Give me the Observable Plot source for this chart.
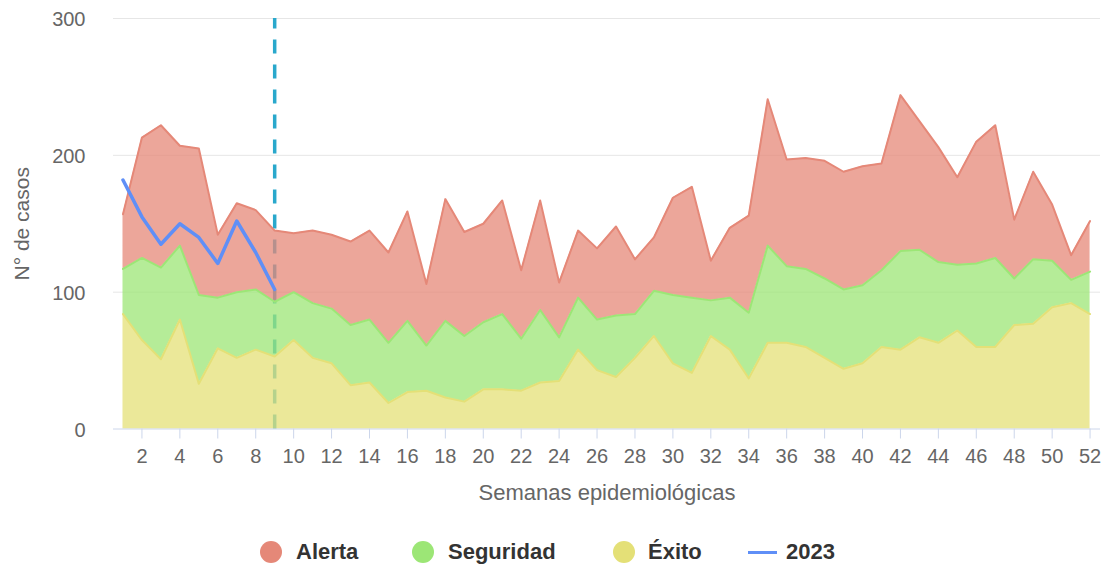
<!DOCTYPE html>
<html>
<head>
<meta charset="utf-8">
<script src="https://cdn.jsdelivr.net/npm/d3@7"></script>
<script src="https://cdn.jsdelivr.net/npm/@observablehq/plot@0.6"></script>
<style>
  html, body { margin: 0; padding: 0; background: #fff; }
  #wrap { position: relative; width: 1102px; height: 564px; font-family: "Liberation Sans", Arial, Helvetica, sans-serif; }
  .lg { position: absolute; top: 552px; transform: translateY(-50%); font-weight: bold; font-size: 22px; color: #333; white-space: nowrap; }
  .dot { position: absolute; top: 552px; width: 22px; height: 22px; border-radius: 50%; transform: translate(-50%, -50%); }
  .ln { position: absolute; top: 550.5px; height: 3px; width: 29px; }
</style>
</head>
<body>
<div id="wrap"></div>
<script>
const weeks = d3.range(1, 53);
const exito = [84,65,51,80,33,59,52,58,53,65,52,48,32,34,19,27,28,23,20,29,29,28,34,35,58,43,38,52,68,48,41,68,58,37,63,63,60,52,44,48,60,58,67,63,72,60,60,76,77,89,92,84];
const seguridad = [33,60,67,54,65,37,48,44,40,35,40,40,44,46,44,52,33,56,48,49,55,38,53,32,38,37,45,32,33,50,55,26,38,48,71,56,57,58,58,57,56,72,64,59,48,61,65,34,47,34,17,31];
const alerta = [40,88,104,73,107,46,65,58,52,43,53,54,61,65,66,80,45,89,76,72,83,50,80,40,49,52,65,40,39,71,81,29,51,71,107,78,81,86,86,87,78,114,94,84,64,89,97,43,64,41,18,37];
const weeks2023 = [1,2,3,4,5,6,7,8,9];
const casos2023 = [182,155,135,150,140,121,152,129,102];
const seriesNames = ["Éxito", "Seguridad", "Alerta"];
const seriesColors = ["#e4e077", "#9ce676", "#e58878"];
const yTicks = [0, 100, 200, 300];
const xTicks = d3.range(2, 53, 2);
const currentWeek = 9;

const table = [];
[exito, seguridad, alerta].forEach((arr, i) => {
  weeks.forEach((w, j) => table.push({week: w, value: arr[j], series: seriesNames[i]}));
});
const line2023 = weeks2023.map((w, i) => ({week: w, value: casos2023[i]}));

const chart = Plot.plot({
  width: 1102,
  height: 524,
  marginLeft: 113,
  marginRight: 2,
  marginTop: 18,
  marginBottom: 95.5,
  style: {fontFamily: "'Liberation Sans', Arial, Helvetica, sans-serif", background: "#fff"},
  x: {type: "linear", domain: [0.5, 52.55]},
  y: {domain: [0, 300]},
  color: {domain: seriesNames, range: seriesColors},
  marks: [
    Plot.gridY(yTicks.filter(d => d > 0), {stroke: "#e6e6e6", strokeOpacity: 1, strokeWidth: 1}),
    Plot.ruleX([currentWeek], {y1: 0, y2: 300, stroke: "#29a8cc", strokeWidth: 3.5, strokeDasharray: "14,11"}),
    Plot.areaY(table, Plot.stackY({x: "week", y: "value", fill: "series", order: seriesNames, fillOpacity: 0.75})),
    Plot.lineY(table, Plot.stackY2({x: "week", y: "value", z: "series", stroke: "series", order: seriesNames, strokeWidth: 2})),
    Plot.ruleY([0], {stroke: "#ccd6eb", strokeWidth: 1}),
    Plot.lineY(line2023, {x: "week", y: "value", stroke: "#5f8ff7", strokeWidth: 3.5}),
    Plot.axisY({ticks: yTicks, tickSize: 0, tickPadding: 28, fontSize: 20, fill: "#666", label: null, dy: 1.5}),
    Plot.axisX({ticks: xTicks, tickSize: 10, tickPadding: 10, fontSize: 20, fill: "#666", stroke: "#ccd6eb", strokeOpacity: 1, label: null}),
    Plot.text(["Semanas epidemiológicas"], {frameAnchor: "bottom", textAnchor: "middle", lineAnchor: "middle", dy: 63.5, fontSize: 22, fill: "#666"}),
    Plot.text(["N° de casos"], {frameAnchor: "left", textAnchor: "middle", lineAnchor: "middle", rotate: -90, dx: -91, fontSize: 21, fill: "#666"})
  ]
});

const wrap = document.getElementById("wrap");
wrap.appendChild(chart);

const legendItems = [
  {type: "dot", color: seriesColors[2], cx: 271, label: "Alerta", tx: 296},
  {type: "dot", color: seriesColors[1], cx: 423, label: "Seguridad", tx: 448},
  {type: "dot", color: seriesColors[0], cx: 624, label: "Éxito", tx: 648},
  {type: "line", color: "#5f8ff7", cx: 748, label: "2023", tx: 786}
];
legendItems.forEach(it => {
  const m = document.createElement("div");
  if (it.type === "dot") {
    m.className = "dot";
    m.style.left = it.cx + "px";
  } else {
    m.className = "ln";
    m.style.left = it.cx + "px";
  }
  m.style.background = it.color;
  wrap.appendChild(m);
  const t = document.createElement("div");
  t.className = "lg";
  t.style.left = it.tx + "px";
  t.textContent = it.label;
  wrap.appendChild(t);
});
</script>
</body>
</html>
